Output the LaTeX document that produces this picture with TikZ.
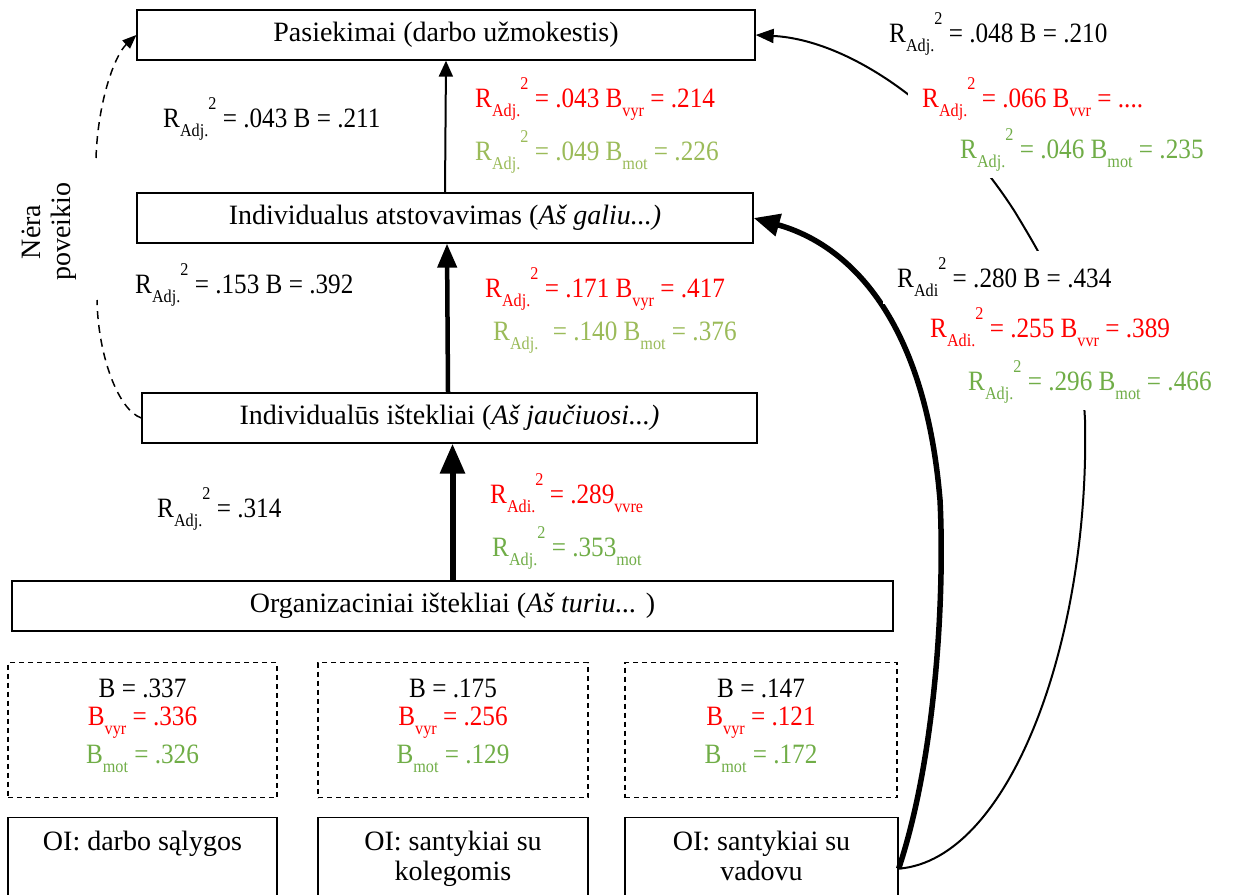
\documentclass[tikz,border=0pt]{standalone}
\usepackage{fontspec}
\setmainfont{Liberation Serif}
\newfontfamily\labfont[FakeStretch=0.9]{Liberation Serif}
\usetikzlibrary{arrows.meta,calc}
\definecolor{lred}{RGB}{255,0,0}
\definecolor{lgreenA}{RGB}{155,187,89}
\definecolor{lgreenB}{RGB}{112,173,71}
\newcommand\lo[1]{\raisebox{-0.34em}{\fontsize{18}{18}\selectfont #1}}
\newcommand\hi[1]{\raisebox{0.62em}{\fontsize{18}{18}\selectfont #1}}
\newcommand\Radj[1]{R\lo{#1}\hi{2}}
\tikzset{
  box/.style={draw, line width=1.3pt, minimum height=50pt, inner sep=0pt, font=\fontsize{28}{30}\selectfont},
  dbox/.style={draw, line width=1.1pt, dash pattern=on 5pt off 4pt, minimum height=135pt, inner sep=0pt, anchor=north},
  obox/.style={draw, line width=1.3pt, minimum height=102pt, inner sep=0pt, anchor=north},
  otext/.style={anchor=north, align=center, inner sep=0pt, font=\fontsize{28}{30}\selectfont},
  lab/.style={font={\labfont\fontsize{28}{30}\selectfont}, fill=white, inner xsep=14pt, inner ysep=7pt, anchor=base west, xshift=-14pt},
  btext/.style={font={\labfont\fontsize{28}{30}\selectfont}, inner sep=0pt, anchor=base},
  dcurve/.style={line width=1.5pt, dash pattern=on 8pt off 6pt},
}
\begin{document}
\begin{tikzpicture}[x=1pt,y=-1pt]
\useasboundingbox (0,0) rectangle (1238,894);
% main boxes
\node[box, minimum width=618pt] (P) at (446,35) {Pasiekimai (darbo užmokestis)};
\node[box, minimum width=616pt] (IA) at (445,218) {Individualus atstovavimas (\textit{Aš galiu...)}};
\node[box, minimum width=615pt] (IR) at (449.5,418) {Individualūs ištekliai (\textit{Aš jaučiuosi...)}};
\node[box, minimum width=881pt] (OR) at (452.5,606) {Organizaciniai ištekliai (\textit{Aš turiu...} )};
% dashed boxes
\node[dbox, minimum width=269pt] (D1) at (142.5,662) {};
\node[dbox, minimum width=270pt] (D2) at (453,662) {};
\node[dbox, minimum width=272pt] (D3) at (761,662) {};
\node[btext] (D1a) at (142.5,697) {B = .337};
\node[btext, text=lred] (D1b) at (142.5,725) {B\lo{vyr} = .336};
\node[btext, text=lgreenB] (D1c) at (142.5,763) {B\lo{mot} = .326};
\node[btext] (D2a) at (453,697) {B = .175};
\node[btext, text=lred] (D2b) at (453,725) {B\lo{vyr} = .256};
\node[btext, text=lgreenB] (D2c) at (453,763) {B\lo{mot} = .129};
\node[btext] (D3a) at (761,697) {B = .147};
\node[btext, text=lred] (D3b) at (761,725) {B\lo{vyr} = .121};
\node[btext, text=lgreenB] (D3c) at (761,763) {B\lo{mot} = .172};
% bottom boxes
\node[obox, minimum width=269pt] (O1) at (142.5,817) {};
\node[obox, minimum width=270pt] (O2) at (453,817) {};
\node[obox, minimum width=273pt] (O3) at (761.5,817) {};
\node[otext] (O1t) at (142.5,830.5) {OI: darbo sąlygos};
\node[otext] (O2t) at (453,830.5) {OI: santykiai su\\kolegomis};
\node[otext] (O3t) at (761.5,830.5) {OI: santykiai su\\vadovu};
% vertical arrows
\draw[line width=2pt, -{Triangle[length=16pt,width=14pt]}] (IA.north) -- (P.south);
\draw[line width=4.5pt, -{Triangle[length=24pt,width=19pt]}] ([xshift=3pt]IR.north -| IA.south) -- ([xshift=2pt]IA.south);
\draw[line width=6pt, -{Triangle[length=30pt,width=24pt]}] (OR.north) -- (OR.north |- IR.south);
% curves from O3
\draw[line width=5.5pt, -{Triangle[length=26pt,width=22pt]}] (O3.east) .. controls (935,760) and (945,600) .. (940,500) .. controls (925,320) and (850,245) .. (IA.east);
\draw[line width=2pt, -{Triangle[length=18pt,width=14pt]}] (O3.east) .. controls (1010,860) and (1090,640) .. (1085,420) .. controls (1080,320) and (1050,270) .. (1015,212) .. controls (950,110) and (850,40) .. (P.east);
% left dashed curves
\coordinate (nb) at (97,300);
\coordinate (nt) at (96,158);
\draw[dcurve] (IR.west) .. controls (118,410) and (98,355) .. (nb);
\draw[dcurve, -{Triangle[length=14pt,width=11pt]}] (nt) .. controls (98,100) and (115,55) .. (P.west);
\node[rotate=90, align=center, inner sep=0pt, font=\fontsize{28}{30}\selectfont] (nera) at (49,232) {Nėra\\poveikio};
% labels
\node[lab] (l1) at (163,127) {\Radj{Adj.} = .043 B = .211};
\node[lab, text=lred] (l2) at (475,107) {\Radj{Adj.} = .043 B\lo{vyr} = .214};
\node[lab, text=lgreenA] (l3) at (475,160) {\Radj{Adj.} = .049 B\lo{mot} = .226};
\node[lab] (l4) at (135,293) {\Radj{Adj.} = .153 B = .392};
\node[lab, text=lred] (l5) at (485,297) {\Radj{Adj.} = .171 B\lo{vyr} = .417};
\node[lab, text=lgreenA] (l6) at (493,340) {R\lo{Adj.}\hphantom{\hi{2}} = .140 B\lo{mot} = .376};
\node[lab] (l7) at (157,517) {\Radj{Adj.} = .314};
\node[lab, text=lred] (l8) at (490,503) {\Radj{Adi.} = .289\lo{vvre}};
\node[lab, text=lgreenB] (l9) at (492,556) {\Radj{Adj.} = .353\lo{mot}};
\node[lab] (l10) at (889,42) {\Radj{Adj.} = .048 B = .210};
\node[lab, text=lred, inner ysep=10pt] (l11) at (922,107) {\Radj{Adj.} = .066 B\lo{vvr} = ....};
\node[lab, text=lgreenB, inner xsep=19pt, xshift=-5pt] (l12) at (960,158) {\Radj{Adj.} = .046 B\lo{mot} = .235};
\node[lab] (l13) at (897,287) {\Radj{Adi} = .280 B = .434};
\node[lab, text=lred] (l14) at (930,337) {\Radj{Adi.} = .255 B\lo{vvr} = .389};
\node[lab, text=lgreenB] (l15) at (968,390) {\Radj{Adj.} = .296 B\lo{mot} = .466};
\end{tikzpicture}
\end{document}
